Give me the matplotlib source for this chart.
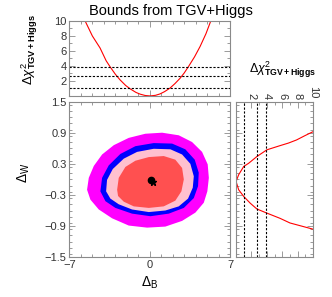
import matplotlib
matplotlib.use("Agg")
import matplotlib.pyplot as plt
from matplotlib.ticker import MultipleLocator, FixedLocator

plt.rcParams['font.family'] = ['Liberation Sans', 'DejaVu Sans']
plt.rcParams['mathtext.fontset'] = 'custom'
plt.rcParams['mathtext.rm'] = 'Liberation Sans'
plt.rcParams['mathtext.it'] = 'Liberation Sans:italic'
plt.rcParams['mathtext.bf'] = 'Liberation Sans:bold'

# 1D scan in Delta_B (top panel)
b_scan = [-5.63, -5.0, -4.33, -3.8, -3.46, -3.0, -2.59, -2.1, -1.71, -1.2, -0.84, -0.4,
          0.03, 0.5, 0.9, 1.3, 1.77, 2.2, 2.64, 3.0, 3.37, 3.9, 4.39, 4.9, 5.32]
chi2_b = [10.0, 8.0, 6.4, 4.7, 3.9, 2.9, 2.15, 1.4, 0.95, 0.47, 0.24, 0.06,
          0.0, 0.08, 0.27, 0.58, 1.05, 1.65, 2.35, 3.05, 3.9, 5.2, 6.6, 8.3, 10.0]

# 1D scan in Delta_W (right panel)
w_scan = [0.92, 0.84, 0.76, 0.70, 0.65, 0.57, 0.44, 0.31, 0.25, 0.09, -0.04,
          -0.20, -0.33, -0.46, -0.57, -0.65, -0.75, -0.84, -0.90, -0.96]
chi2_w = [10.0, 8.9, 7.85, 6.8, 5.7, 4.0, 2.7, 1.63, 1.0, 0.34, 0.0,
          0.34, 1.0, 1.85, 2.7, 4.0, 5.7, 7.0, 8.5, 10.0]

# reference chi2 levels
chi2_levels = [1.0, 2.71, 3.84]

# 2D allowed regions (outermost first)
magenta_b = [-5.46, -5.31, -4.87, -4.15, -3.13, -1.83, -0.38, 1.08, 2.53, 3.69, 4.56, 5.05,
             5.15, 5.02, 4.71, 3.98, 2.82, 1.36, -0.23, -1.83, -3.28, -4.44, -5.17]
magenta_w = [-0.20, 0.03, 0.26, 0.48, 0.66, 0.80, 0.88, 0.90, 0.85, 0.72, 0.53, 0.29,
             0.03, -0.23, -0.45, -0.64, -0.80, -0.91, -0.93, -0.89, -0.75, -0.58, -0.39]
blue_b = [-4.30, -4.15, -3.57, -2.56, -1.25, 0.35, 1.95, 3.10, 3.92, 4.27, 4.21, 3.84,
          2.97, 1.66, 0.06, -1.54, -2.99, -3.86]
blue_w = [-0.23, 0.03, 0.27, 0.49, 0.64, 0.70, 0.69, 0.58, 0.38, 0.13, -0.13, -0.36,
          -0.55, -0.66, -0.71, -0.66, -0.55, -0.42]
pink_b = [-3.80, -3.72, -3.22, -2.26, -1.10, 0.35, 1.80, 2.82, 3.54, 3.84, 3.75, 3.34,
          2.53, 1.36, -0.08, -1.54, -2.70, -3.43]
pink_w = [-0.23, -0.01, 0.20, 0.40, 0.53, 0.59, 0.58, 0.48, 0.30, 0.06, -0.16, -0.37,
          -0.52, -0.60, -0.63, -0.58, -0.48, -0.37]
red_b = [-2.84, -2.70, -2.12, -1.25, -0.08, 1.22, 2.23, 2.82, 2.97, 2.76, 2.23, 1.22,
         -0.08, -1.39, -2.26, -2.76]
red_w = [-0.20, 0.03, 0.24, 0.36, 0.43, 0.45, 0.38, 0.22, 0.00, -0.23, -0.41, -0.52,
         -0.55, -0.52, -0.43, -0.32]

best_fit = (0.09, -0.01)
sm_point = (0.32, -0.05)

GRAY = '#8a8a8a'
CHI_LABEL = r'$\Delta\chi^2_{\rm \mathbf{TGV+Higgs}}$'


def style(ax):
    for s in ax.spines.values():
        s.set_color(GRAY)
        s.set_linewidth(0.8)
    ax.tick_params(which='both', direction='in', color=GRAY, top=True, right=True,
                   labelsize=8, pad=2, width=0.6, labelcolor='#333333')
    ax.tick_params(which='major', length=4)
    ax.tick_params(which='minor', length=2)


fig = plt.figure(figsize=(3.32, 2.97), dpi=100)
ax = fig.add_axes([0.209, 0.134, 0.484, 0.524])
ax_t = fig.add_axes([0.209, 0.677, 0.484, 0.2525])
ax_r = fig.add_axes([0.711, 0.134, 0.232, 0.524])

# main panel
ax.fill(magenta_b, magenta_w, color='#ff00ff', lw=0)
ax.fill(blue_b, blue_w, color='#0000ff', lw=0)
ax.fill(pink_b, pink_w, color='#ffc0cf', lw=0)
ax.fill(red_b, red_w, color='#ff5050', lw=0)
ax.plot(*best_fit, 'o', color='black', ms=4.5)
ax.plot(*sm_point, '*', color='black', ms=5)
ax.set_xlim(-7, 7)
ax.set_ylim(-1.5, 1.5)
ax.xaxis.set_major_locator(FixedLocator([-7, 0, 7]))
ax.xaxis.set_minor_locator(MultipleLocator(1))
ax.set_xticklabels(['\u22127', '0', '7'])
ax.yaxis.set_minor_locator(MultipleLocator(0.12))
ax.set_yticks([-1.5, -0.9, -0.3, 0.3, 0.9, 1.5])
ax.set_yticklabels(['\u22121.5', '\u22120.9', '\u22120.3', '0.3', '0.9', '1.5'])
ax.set_xlabel(r'$\Delta_{\rm B}$', fontsize=10)
ax.set_ylabel(r'$\Delta_{\rm W}$', fontsize=10)
ax.xaxis.set_label_coords(0.5, -0.11)
ax.yaxis.set_label_coords(-0.235, 0.54)
style(ax)

# top panel
ax_t.plot(b_scan, chi2_b, color='red', lw=0.8)
for lv in chi2_levels:
    ax_t.axhline(lv, color='black', lw=0.8, ls=(0, (2, 1.5)))
ax_t.set_xlim(-7, 7)
ax_t.set_ylim(0, 10)
ax_t.xaxis.set_major_locator(FixedLocator([-7, 0, 7]))
ax_t.xaxis.set_minor_locator(MultipleLocator(1))
ax_t.set_xticklabels([])
ax_t.set_yticks([2, 4, 6, 8, 10])
ax_t.yaxis.set_minor_locator(MultipleLocator(1))
ax_t.set_ylabel(CHI_LABEL, fontsize=9.5)
ax_t.yaxis.set_label_coords(-0.18, 0.62)
style(ax_t)

# right panel
ax_r.plot(chi2_w, w_scan, color='red', lw=0.8)
for lv in chi2_levels:
    ax_r.axvline(lv, color='black', lw=0.8, ls=(0, (2, 1.5)))
ax_r.set_xlim(0, 10)
ax_r.set_ylim(-1.5, 1.5)
ax_r.set_xticks([2, 4, 6, 8, 10])
ax_r.xaxis.set_minor_locator(MultipleLocator(1))
ax_r.set_yticks([-1.5, -0.9, -0.3, 0.3, 0.9, 1.5])
ax_r.yaxis.set_minor_locator(MultipleLocator(0.12))
ax_r.set_yticklabels([])
style(ax_r)
ax_r.tick_params(labeltop=True, labelbottom=False)
for lab in ax_r.get_xticklabels():
    lab.set_rotation(-90)
ax_r.text(0.6, 1.205, CHI_LABEL, fontsize=9,
          transform=ax_r.transAxes, ha='center', va='center')

fig.text(0.515, 0.962, 'Bounds from TGV+Higgs', fontsize=10.5, ha='center', va='center')

fig.savefig('out.png', dpi=100)
